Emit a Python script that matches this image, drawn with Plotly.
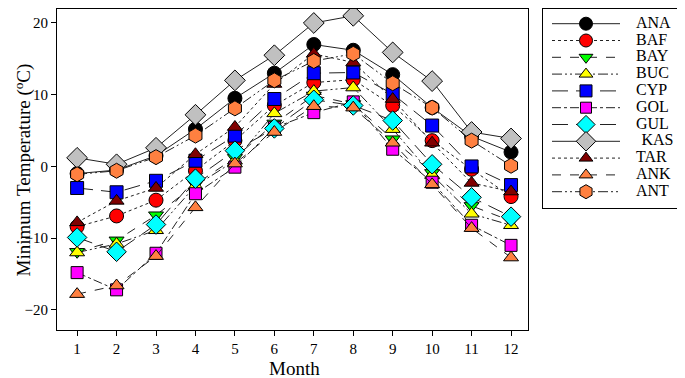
import plotly.graph_objects as go

months = list(range(1, 13))
month_labels = [str(m) for m in months]

ANA = [-1.0, -0.5, 1.5, 5.2, 9.5, 13.0, 17.0, 16.2, 12.8, 8.2, 4.2, 2.0]
BAF = [-8.4, -6.9, -4.7, -0.6, 3.6, 8.5, 11.7, 12.1, 8.5, 3.6, -0.4, -4.2]
BAY = [-11.9, -10.3, -6.8, -2.5, 1.2, 6.0, 9.9, 8.7, 3.8, -0.9, -5.5, -7.6]
BUC = [-12.0, -10.8, -8.9, -2.7, 0.8, 7.4, 10.5, 11.0, 5.2, -1.2, -6.6, -8.2]
CYP = [-3.0, -3.6, -2.0, 0.8, 4.3, 9.4, 13.0, 13.1, 10.1, 5.7, 0.0, -2.6]
GOL = [-14.8, -17.2, -12.1, -3.8, -0.1, 5.4, 7.5, 9.0, 2.4, -2.2, -8.2, -11.0]
GUL = [-9.9, -11.9, -8.1, -1.7, 2.2, 5.3, 9.3, 8.5, 6.4, 0.3, -4.3, -7.0]
KAS = [1.2, 0.3, 2.6, 7.2, 12.0, 15.5, 20.0, 21.0, 15.9, 11.9, 4.8, 3.9]
TAR = [-7.8, -4.8, -3.0, 1.7, 5.5, 11.5, 15.7, 14.5, 9.4, 3.3, -2.3, -3.5]
ANK = [-17.8, -16.6, -12.5, -5.7, 0.4, 4.8, 8.4, 8.2, 3.3, -2.5, -8.6, -12.7]
ANT = [-1.1, -0.6, 1.3, 4.3, 8.1, 12.0, 14.7, 15.7, 11.6, 8.2, 3.6, 0.1]

series_names = ["ANA", "BAF", "BAY", "BUC", "CYP", "GOL", "GUL", "KAS", "TAR", "ANK", "ANT"]
series_values = [ANA, BAF, BAY, BUC, CYP, GOL, GUL, KAS, TAR, ANK, ANT]
y_ticks = [-20, -10, 0, 10, 20]

colors = ["#000000", "#ff0000", "#00ff00", "#ffff00", "#0000ff", "#ff00ff",
          "#00ffff", "#c0c0c0", "#800000", "#ff8040", "#ff8040"]
symbols = ["circle", "circle", "triangle-down", "triangle-up", "square", "square",
           "diamond", "diamond", "triangle-up", "triangle-up", "hexagon"]
ddot = "10px,3px,2px,3px,2px,3px"
dashes = ["solid", "dot", "dash", ddot, "16px,8px", "dashdot", "16px,8px",
          "solid", "dot", "dash", ddot]
sizes = [14, 14, 13, 13, 13, 12, 15, 16, 13, 13, 15]
leg_sizes = [13, 13, 12, 12, 12, 11, 14, 15, 12, 12, 14]

# page body adds an 8px offset; figure coordinates = screen - 8
W, H = 677, 370
font_family = "Liberation Serif, Times New Roman, serif"

PL, PR, PT, PB = 49, 520, 1, 322   # plot box in figure px

fig = go.Figure()
for name, vals, c, s, d, sz in zip(series_names, series_values, colors, symbols, dashes, sizes):
    fig.add_trace(go.Scatter(
        x=months, y=vals, name=name, mode="lines+markers",
        line=dict(color="#222222", width=1, dash=d),
        marker=dict(symbol=s, color=c, size=sz, line=dict(color="#000000", width=1)),
        showlegend=False, cliponaxis=False,
    ))

# manual legend on its own axes
LL, LR, LT, LB = 535, 672, 1, 200
x0, xm, x1 = (544 - LL) / 137, (578 - LL) / 137, (612 - LL) / 137
xt = (628 - LL) / 137
for i, (name, c, s, d, sz) in enumerate(zip(series_names, colors, symbols, dashes, leg_sizes)):
    fig.add_trace(go.Scatter(
        x=[x0, x1], y=[i, i], mode="lines", xaxis="x2", yaxis="y2",
        line=dict(color="#222222", width=1, dash=d), showlegend=False, hoverinfo="skip",
    ))
    fig.add_trace(go.Scatter(
        x=[xm], y=[i], mode="markers", xaxis="x2", yaxis="y2",
        marker=dict(symbol=s, color=c, size=sz, line=dict(color="#000000", width=1)),
        showlegend=False, hoverinfo="skip",
    ))
fig.add_trace(go.Scatter(
    x=[xt + (0.04 if n == "KAS" else 0) for n in series_names],
    y=list(range(len(series_names))), mode="text", text=series_names,
    textposition="middle right", xaxis="x2", yaxis="y2", cliponaxis=False,
    textfont=dict(size=16, family=font_family, color="black"),
    showlegend=False, hoverinfo="skip",
))

row0 = 15.7
rowstep = 16.8

fig.update_layout(
    width=W, height=H,
    margin=dict(l=0, r=0, t=0, b=0),
    paper_bgcolor="white", plot_bgcolor="white",
    font=dict(family=font_family, color="black", size=15),
    showlegend=False,
    xaxis=dict(
        domain=[PL / W, PR / W], anchor="y",
        range=[0.49, 12.43], tickvals=months, ticktext=month_labels,
        showgrid=False, zeroline=False, showline=True, linecolor="black",
        linewidth=1, mirror=True, ticks="outside", ticklen=5, tickcolor="black",
        tickfont=dict(size=15), automargin=False,
    ),
    yaxis=dict(
        domain=[(H - PB) / H, (H - PT) / H], anchor="x",
        range=[-22.8, 21.95], tickvals=y_ticks,
        showgrid=False, zeroline=False, showline=True, linecolor="black",
        linewidth=1, mirror=True, ticks="outside", ticklen=5, tickcolor="black",
        tickfont=dict(size=15), automargin=False,
    ),
    xaxis2=dict(
        domain=[LL / W, LR / W], anchor="y2", range=[0, 1],
        showgrid=False, zeroline=False, showticklabels=False, ticks="",
        showline=True, linecolor="black", linewidth=1, mirror=True, fixedrange=True,
    ),
    yaxis2=dict(
        domain=[(H - LB) / H, (H - LT) / H], anchor="x2",
        range=[(LB - row0) / rowstep, (LT - row0) / rowstep],
        showgrid=False, zeroline=False, showticklabels=False, ticks="",
        showline=True, linecolor="black", linewidth=1, mirror=True, fixedrange=True,
    ),
    annotations=[
        dict(text="Month", xref="paper", yref="paper", x=286 / W, y=1 - 360 / H,
             xanchor="center", yanchor="middle", showarrow=False,
             font=dict(size=19, family=font_family, color="black")),
        dict(text="Minimum Temperature (<sup>o</sup>C)", xref="paper", yref="paper",
             x=0, y=1 - 162 / H, textangle=-90,
             xanchor="left", yanchor="middle", showarrow=False,
             font=dict(size=19, family=font_family, color="black")),
    ],
)

fig.write_html("out.html")
